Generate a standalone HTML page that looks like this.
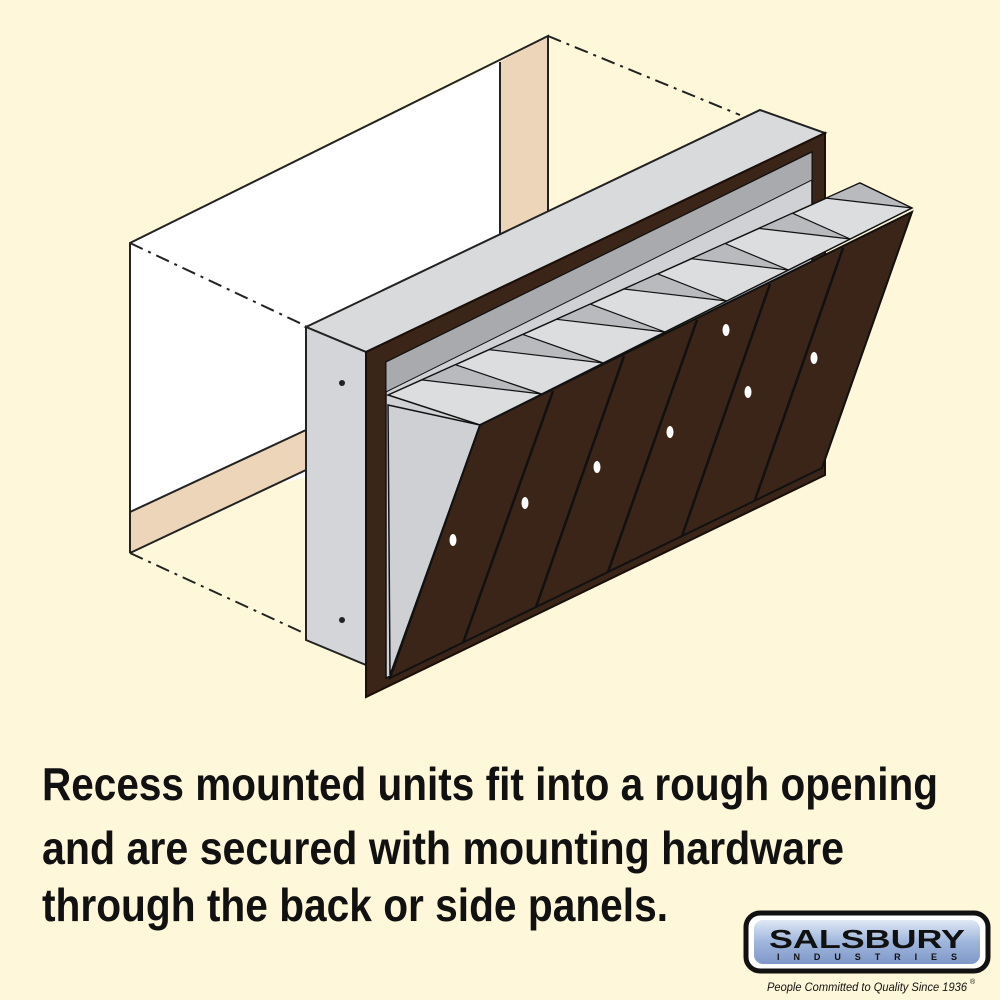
<!DOCTYPE html>
<html><head><meta charset="utf-8"><style>
html,body{margin:0;padding:0;background:#fef7d9;}
svg{display:block}
</style></head><body>
<svg width="1000" height="1000" viewBox="0 0 1000 1000" xmlns="http://www.w3.org/2000/svg">
<defs>
<linearGradient id="lg" x1="0" y1="0" x2="0" y2="1">
<stop offset="0" stop-color="#dfe8f5"/><stop offset="0.5" stop-color="#9fb6dc"/><stop offset="1" stop-color="#7f98c8"/>
</linearGradient>
</defs>
<rect width="1000" height="1000" fill="#fef7d9"/>
<polygon points="130,243 500,62 500,440 130,512" fill="#fff"/>
<polygon points="500,62 548,36 548,225 500,250" fill="#ecd5b8"/>
<polygon points="130,512 306,430 306,470 130,553" fill="#ecd5b8"/>
<g stroke="#222" stroke-width="2" fill="none">
<polyline points="130,553 130,243 548,36 548,225"/>
<line x1="500" y1="62" x2="500" y2="250"/>
<line x1="130" y1="512" x2="306" y2="430"/>
<line x1="130" y1="553" x2="306" y2="470"/>
</g>
<g stroke="#222" stroke-width="2" fill="none" stroke-dasharray="14,6,3,6">
<line x1="130" y1="243" x2="306" y2="326"/>
<line x1="548" y1="36" x2="740" y2="115"/>
<line x1="130" y1="553" x2="306" y2="634"/>
</g>
<polygon points="306,327 760,110 825,133 366,352" fill="#d9dadc" stroke="#222" stroke-width="2"/>
<polygon points="306,327 366,352 366,665 306,640" fill="#d4d5d8" stroke="#222" stroke-width="2"/>
<circle cx="342" cy="383" r="3" fill="#222"/><circle cx="342" cy="620" r="3" fill="#222"/>
<polygon points="366,352 825,133 825,475 366,697" fill="#3b2518" stroke="#1a0f08" stroke-width="2"/>
<polygon points="386,362 812,152 812,468 386,678" fill="#d0d1d4" stroke="#111" stroke-width="1.5"/>
<polygon points="386,362 812,152 812,180 386,392" fill="#a9aaad" stroke="#111" stroke-width="1"/>
<polygon points="388,395 860,183 912,208 480,425" fill="#dcdddf" stroke="#111" stroke-width="1.5"/>
<g stroke="#111" stroke-width="1.2" fill="#b9babd">
<polygon points="455.4,364.7 541.7,394 421.7,379.9"/>
<polygon points="522.8,334.4 603.4,363 489.1,349.6"/>
<polygon points="590.2,304.1 665.1,332 556.5,319.3"/>
<polygon points="657.6,273.8 726.8,301 623.9,289"/>
<polygon points="725,243.5 788.5,270 691.3,258.7"/>
<polygon points="792.4,213.2 850.2,239 758.7,228.4"/>
<polygon points="859.8,182.9 912,208 826.1,198.1"/>
</g>
<polygon points="388,405 480,425 390,675" fill="#cfd0d3" stroke="#111" stroke-width="1.5"/>
<polygon points="480,425 912,212 822,468 390,678" fill="#3b2518" stroke="#111" stroke-width="2"/>
<g stroke="#111" stroke-width="2.5">
<line x1="553" y1="391" x2="463" y2="643"/>
<line x1="624" y1="356" x2="536" y2="607"/>
<line x1="697" y1="320" x2="608" y2="572"/>
<line x1="770" y1="284" x2="682" y2="536"/>
<line x1="843" y1="248" x2="755" y2="500"/>
</g>
<g fill="#fff">
<ellipse cx="453" cy="540" rx="3.5" ry="6"/>
<ellipse cx="525" cy="503" rx="3.5" ry="6"/>
<ellipse cx="597" cy="467" rx="3.5" ry="6"/>
<ellipse cx="670" cy="432" rx="3.5" ry="6"/>
<ellipse cx="726" cy="330" rx="3.5" ry="6"/>
<ellipse cx="748" cy="392" rx="3.5" ry="6"/>
<ellipse cx="814" cy="358" rx="3.5" ry="6"/>
</g>
<g font-family="Liberation Sans, sans-serif" font-weight="bold" font-size="46" fill="#111">
<text x="42" y="800" textLength="896" lengthAdjust="spacingAndGlyphs">Recess mounted units fit into a rough opening</text>
<text x="42" y="864" textLength="802" lengthAdjust="spacingAndGlyphs">and are secured with mounting hardware</text>
<text x="42" y="921" textLength="626" lengthAdjust="spacingAndGlyphs">through the back or side panels.</text>
</g>
<rect x="746" y="913" width="242" height="58" rx="14" fill="#fff" stroke="#111" stroke-width="5"/>
<rect x="754" y="920" width="226" height="44" rx="9" fill="url(#lg)"/>
<text x="867" y="948" text-anchor="middle" font-family="Liberation Sans, sans-serif" font-weight="bold" font-size="26" fill="#111" textLength="196" lengthAdjust="spacingAndGlyphs">SALSBURY</text>
<text x="867" y="960" text-anchor="middle" font-family="Liberation Sans, sans-serif" font-weight="bold" font-size="9" fill="#111" textLength="180" lengthAdjust="spacing">INDUSTRIES</text>
<text x="867" y="991" text-anchor="middle" font-family="Liberation Sans, sans-serif" font-style="italic" font-size="12" fill="#111" textLength="200" lengthAdjust="spacingAndGlyphs">People Committed to Quality Since 1936</text>
<text x="970" y="984" font-family="Liberation Sans, sans-serif" font-size="7" fill="#111">®</text>
</svg>
</body></html>
